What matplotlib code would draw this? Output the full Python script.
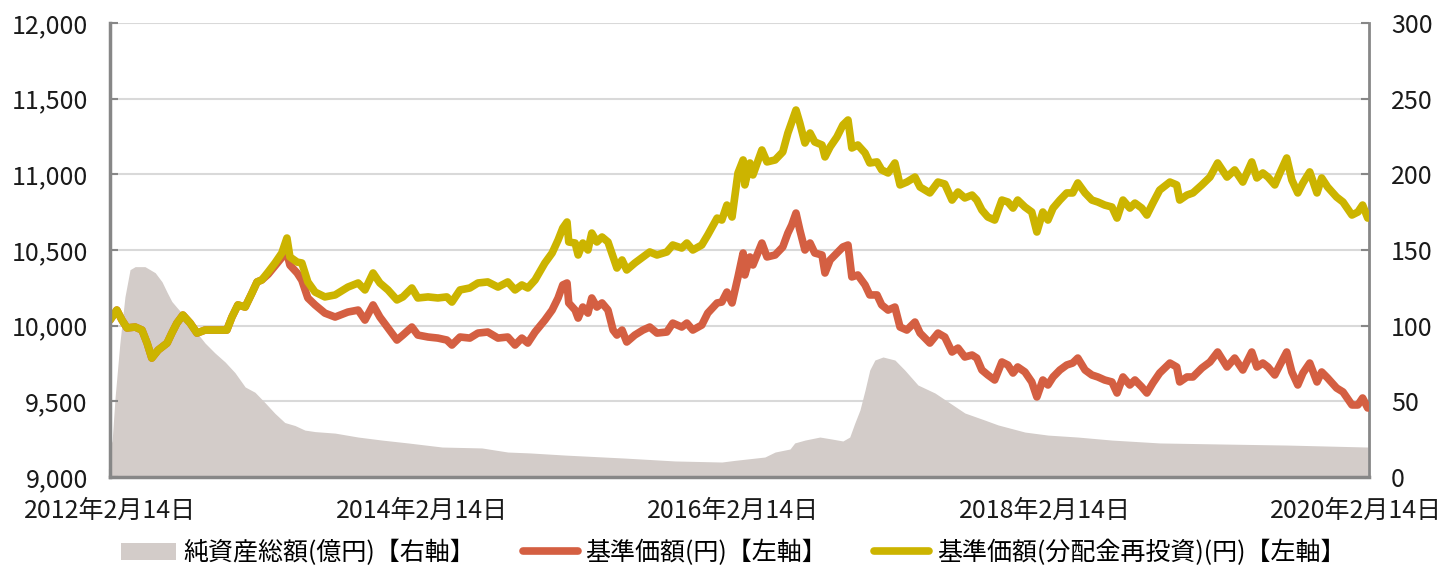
import pandas as pd
import matplotlib
matplotlib.use("Agg")
import matplotlib.pyplot as plt
from matplotlib.ticker import FuncFormatter, MultipleLocator

plt.rcParams['font.family'] = ['Noto Sans CJK JP', 'DejaVu Sans']

# --- data ---
price_dates = [
    "2012-02-14", "2012-03-01", "2012-03-13", "2012-03-25", "2012-04-13", "2012-04-29",
    "2012-05-11", "2012-05-22", "2012-06-06", "2012-06-27", "2012-07-08", "2012-07-20",
    "2012-08-03", "2012-08-20", "2012-09-05", "2012-09-24", "2012-10-24", "2012-11-14",
    "2012-11-26", "2012-12-10", "2012-12-27", "2013-01-12", "2013-01-24", "2013-02-04",
    "2013-02-19", "2013-03-07", "2013-03-23", "2013-04-04", "2013-04-11", "2013-04-28",
    "2013-05-09", "2013-05-23", "2013-06-09", "2013-07-02", "2013-07-26", "2013-08-25",
    "2013-09-18", "2013-10-04", "2013-10-23", "2013-11-08", "2013-11-27", "2013-12-18",
    "2014-01-01", "2014-01-22", "2014-02-05", "2014-03-01", "2014-03-24", "2014-04-14",
    "2014-04-26", "2014-05-15", "2014-06-07", "2014-06-26", "2014-07-19", "2014-08-12",
    "2014-09-04", "2014-09-21", "2014-10-07", "2014-10-21", "2014-11-07", "2014-11-30",
    "2014-12-17", "2014-12-31", "2015-01-11", "2015-01-21", "2015-01-25", "2015-02-09",
    "2015-02-16", "2015-02-27", "2015-03-11", "2015-03-20", "2015-04-01", "2015-04-13",
    "2015-04-27", "2015-05-09", "2015-05-18", "2015-05-30", "2015-06-10", "2015-06-29",
    "2015-07-18", "2015-08-03", "2015-08-20", "2015-09-12", "2015-09-26", "2015-10-17",
    "2015-10-29", "2015-11-12", "2015-12-03", "2015-12-17", "2016-01-08", "2016-01-19",
    "2016-01-31", "2016-02-12", "2016-02-19", "2016-02-26", "2016-03-09", "2016-03-13",
    "2016-03-25", "2016-04-01", "2016-04-22", "2016-05-04", "2016-05-23", "2016-06-10",
    "2016-06-22", "2016-07-01", "2016-07-11", "2016-07-20", "2016-08-01", "2016-08-13",
    "2016-08-24", "2016-09-10", "2016-09-17", "2016-09-29", "2016-10-15", "2016-10-29",
    "2016-11-10", "2016-11-19", "2016-12-03", "2016-12-20", "2016-12-31", "2017-01-17",
    "2017-01-28", "2017-02-12", "2017-02-28", "2017-03-12", "2017-03-28", "2017-04-16",
    "2017-04-28", "2017-05-21", "2017-06-09", "2017-06-25", "2017-07-12", "2017-07-26",
    "2017-08-11", "2017-08-28", "2017-09-08", "2017-09-20", "2017-10-04", "2017-10-20",
    "2017-11-06", "2017-11-20", "2017-12-02", "2017-12-13", "2017-12-30", "2018-01-15",
    "2018-01-27", "2018-02-10", "2018-02-22", "2018-03-06", "2018-03-22", "2018-04-07",
    "2018-04-21", "2018-05-03", "2018-05-20", "2018-06-05", "2018-06-19", "2018-07-05",
    "2018-07-22", "2018-08-03", "2018-08-17", "2018-09-02", "2018-09-14", "2018-09-30",
    "2018-10-12", "2018-10-26", "2018-11-11", "2018-12-05", "2018-12-21", "2018-12-28",
    "2019-01-14", "2019-01-28", "2019-02-18", "2019-03-09", "2019-03-27", "2019-04-18",
    "2019-05-06", "2019-05-25", "2019-06-15", "2019-06-27", "2019-07-11", "2019-07-23",
    "2019-08-08", "2019-08-20", "2019-09-05", "2019-09-17", "2019-10-01", "2019-10-13",
    "2019-10-29", "2019-11-15", "2019-11-26", "2019-12-10", "2019-12-31", "2020-01-15",
    "2020-02-05", "2020-02-19", "2020-03-01", "2020-03-13",
]

# 基準価額(分配金再投資)
reinvested = [
    10037, 10103, 10037, 9985, 9991, 9971,
    9885, 9786, 9839, 9885, 9951, 10017,
    10070, 10017, 9951, 9971, 9971, 9971,
    10057, 10137, 10123, 10216, 10289, 10302,
    10355, 10414, 10480, 10579, 10454, 10420,
    10414, 10289, 10222, 10190, 10203, 10255,
    10282, 10236, 10348, 10282, 10236, 10170,
    10190, 10249, 10183, 10190, 10183, 10190,
    10156, 10236, 10249, 10282, 10289, 10255,
    10289, 10236, 10269, 10249, 10302, 10414,
    10480, 10566, 10645, 10685, 10553, 10546,
    10467, 10546, 10500, 10612, 10553, 10586,
    10553, 10454, 10381, 10434, 10368, 10414,
    10454, 10487, 10467, 10487, 10533, 10513,
    10546, 10500, 10533, 10599, 10711, 10698,
    10797, 10718, 10863, 11009, 11095, 10930,
    11075, 10996, 11161, 11082, 11095, 11148,
    11273, 11346, 11425, 11339, 11207, 11273,
    11214, 11194, 11115, 11181, 11247, 11326,
    11359, 11174, 11194, 11141, 11075, 11082,
    11029, 11009, 11075, 10930, 10949, 10982,
    10916, 10877, 10949, 10936, 10830, 10883,
    10844, 10863, 10830, 10764, 10718, 10698,
    10830, 10817, 10777, 10830, 10784, 10751,
    10619, 10751, 10698, 10777, 10830, 10877,
    10877, 10943, 10877, 10830, 10817, 10797,
    10784, 10711, 10830, 10777, 10810, 10777,
    10731, 10810, 10896, 10949, 10930, 10830,
    10863, 10877, 10930, 10982, 11075, 10982,
    11029, 10949, 11082, 10976, 11009, 10982,
    10930, 11009, 11108, 10963, 10877, 10943,
    11016, 10877, 10976, 10916, 10850, 10817,
    10731, 10751, 10797, 10711,
]

# 基準価額
nav = [
    10037, 10103, 10037, 9985, 9991, 9971,
    9885, 9786, 9839, 9885, 9951, 10017,
    10070, 10017, 9951, 9971, 9971, 9971,
    10057, 10137, 10123, 10216, 10289, 10302,
    10340, 10395, 10450, 10480, 10400, 10348,
    10300, 10183, 10137, 10083, 10057, 10090,
    10103, 10037, 10137, 10057, 9985, 9905,
    9938, 9991, 9938, 9925, 9918, 9905,
    9872, 9925, 9918, 9951, 9958, 9918,
    9925, 9872, 9918, 9885, 9958, 10037,
    10103, 10183, 10269, 10282, 10150, 10103,
    10050, 10123, 10083, 10183, 10123, 10150,
    10103, 9971, 9938, 9971, 9892, 9938,
    9971, 9991, 9951, 9958, 10017, 9991,
    10017, 9971, 10004, 10083, 10150, 10156,
    10222, 10150, 10236, 10322, 10480, 10335,
    10454, 10401, 10546, 10454, 10467, 10520,
    10612, 10665, 10744, 10632, 10500, 10546,
    10480, 10467, 10348, 10434, 10480, 10520,
    10533, 10322, 10335, 10269, 10203, 10203,
    10137, 10103, 10123, 9991, 9971, 10024,
    9951, 9885, 9951, 9925, 9826, 9852,
    9793, 9806, 9786, 9707, 9674, 9641,
    9760, 9740, 9687, 9727, 9694, 9628,
    9529, 9641, 9608, 9661, 9707, 9740,
    9753, 9786, 9707, 9674, 9661, 9641,
    9628, 9555, 9661, 9608, 9641, 9595,
    9555, 9621, 9687, 9753, 9727, 9628,
    9661, 9661, 9720, 9760, 9826, 9727,
    9786, 9707, 9826, 9727, 9753, 9727,
    9674, 9740, 9826, 9694, 9608, 9687,
    9753, 9628, 9694, 9654, 9588, 9562,
    9476, 9476, 9522, 9456,
]

# 純資産総額(億円)
asset_dates = [
    "2012-02-14", "2012-02-19", "2012-02-26", "2012-03-08", "2012-03-20", "2012-04-01",
    "2012-04-13", "2012-05-06", "2012-05-30", "2012-06-15", "2012-06-27", "2012-07-08",
    "2012-07-20", "2012-08-08", "2012-08-31", "2012-09-24", "2012-10-17", "2012-11-10",
    "2012-12-03", "2012-12-27", "2013-01-19", "2013-02-12", "2013-03-07", "2013-03-30",
    "2013-04-23", "2013-05-16", "2013-06-09", "2013-07-26", "2013-09-18", "2013-11-13",
    "2014-01-13", "2014-04-03", "2014-07-05", "2014-09-04", "2014-10-26", "2015-01-16",
    "2015-06-06", "2015-10-01", "2016-01-19", "2016-02-19", "2016-04-29", "2016-05-23",
    "2016-06-27", "2016-07-08", "2016-08-01", "2016-09-05", "2016-10-03", "2016-10-29",
    "2016-11-14", "2016-11-26", "2016-12-08", "2016-12-20", "2016-12-31", "2017-01-12",
    "2017-01-31", "2017-02-28", "2017-03-23", "2017-04-23", "2017-06-02", "2017-07-07",
    "2017-08-11", "2017-09-27", "2017-10-28", "2017-12-30", "2018-02-22", "2018-05-03",
    "2018-07-22", "2018-11-11", "2019-04-06", "2019-09-08", "2020-03-13",
]
net_assets = [
    20, 24, 53, 88, 119, 137,
    139, 139, 135, 129, 122, 116,
    112, 106, 97, 88.5, 82, 76,
    69, 59.5, 56, 49, 42, 36,
    34, 31, 30, 29, 26.4, 24.4,
    22.5, 19.8, 19.2, 16.5, 15.9, 14.5,
    12.5, 10.6, 9.9, 11, 13.2, 16.5,
    18.5, 22.5, 24.4, 26.4, 25.1, 23.8,
    26.4, 35.7, 44.3, 57.5, 70.7, 77.3,
    79.3, 77.3, 70.7, 60.8, 55.5, 48.9,
    42.3, 37.6, 34.4, 29.7, 27.7, 26.4,
    24.4, 22.5, 21.8, 21.1, 19.8,
]

tick_dates = ["2012-02-14", "2014-02-14", "2016-02-14", "2018-02-14", "2020-02-14"]
x_start, x_end = "2012-02-14", "2020-03-16"

label_assets = "純資産総額(億円)【右軸】"
label_nav = "基準価額(円)【左軸】"
label_reinv = "基準価額(分配金再投資)(円)【左軸】"

c_area = "#D3CCC9"
c_red = "#D45F42"
c_yellow = "#CCB400"
c_spine = "#878787"
c_grid = "#D9D9D9"
fs = 18

pdates = pd.to_datetime(price_dates)
adates = pd.to_datetime(asset_dates)
tdates = pd.to_datetime(tick_dates)

fig = plt.figure(figsize=(14.47, 5.65), dpi=100)
ax2 = fig.add_axes([110 / 1447, 1 - 477 / 565, (1369 - 110) / 1447, (477 - 23) / 565])
ax = ax2.twinx()
ax2.yaxis.tick_right()
ax.yaxis.tick_left()

# area on the back axis, lines on the front one
ax2.fill_between(adates, net_assets, 0, color=c_area, lw=0, zorder=2,
                 label=label_assets)
ax.plot(pdates, nav, color=c_red, lw=5.5, solid_capstyle="round",
        solid_joinstyle="round", label=label_nav)
ax.plot(pdates, reinvested, color=c_yellow, lw=5.5, solid_capstyle="round",
        solid_joinstyle="round", label=label_reinv)

ax2.set_ylim(0, 300)
ax.set_ylim(9000, 12000)
ax2.yaxis.set_major_locator(MultipleLocator(50))
ax.yaxis.set_major_locator(MultipleLocator(500))
ax.yaxis.set_major_formatter(FuncFormatter(lambda v, p: f"{int(v):,}"))
ax2.set_xlim(pd.Timestamp(x_start), pd.Timestamp(x_end))

ax2.grid(axis="y", color=c_grid, lw=1.5, zorder=0)
ax2.set_axisbelow(True)

ax2.set_xticks(tdates)
ax2.set_xticklabels([f"{d.year}年{d.month}月{d.day}日" for d in tdates])

for a in (ax, ax2):
    for s in a.spines.values():
        s.set_visible(False)
ax2.spines["bottom"].set_visible(True)
ax2.spines["bottom"].set_color(c_spine)
ax2.spines["bottom"].set_linewidth(2.5)
ax2.spines["right"].set_visible(True)
ax2.spines["right"].set_color(c_spine)
ax2.spines["right"].set_linewidth(2)
ax.spines["left"].set_visible(True)
ax.spines["left"].set_color(c_spine)
ax.spines["left"].set_linewidth(2.5)

ax2.tick_params(axis="x", direction="in", length=6, width=1.5, color=c_spine,
                labelsize=fs, pad=15, labelcolor="#1a1a1a")
ax2.tick_params(axis="y", direction="in", length=6, width=1.5, color=c_spine,
                labelsize=fs, pad=16, labelcolor="#1a1a1a")
ax.tick_params(axis="y", direction="in", length=6, width=1.5, color=c_spine,
               labelsize=fs, pad=16, labelcolor="#1a1a1a")

h1, l1 = ax2.get_legend_handles_labels()
h2, l2 = ax.get_legend_handles_labels()
fig.legend(h1 + h2, l1 + l2, loc="center", bbox_to_anchor=(733 / 1447, 1 - 553 / 565),
           ncol=3, frameon=False, fontsize=fs, handlelength=2.2, handletextpad=0.3,
           columnspacing=1.9)

fig.savefig("out.png", dpi=100)
